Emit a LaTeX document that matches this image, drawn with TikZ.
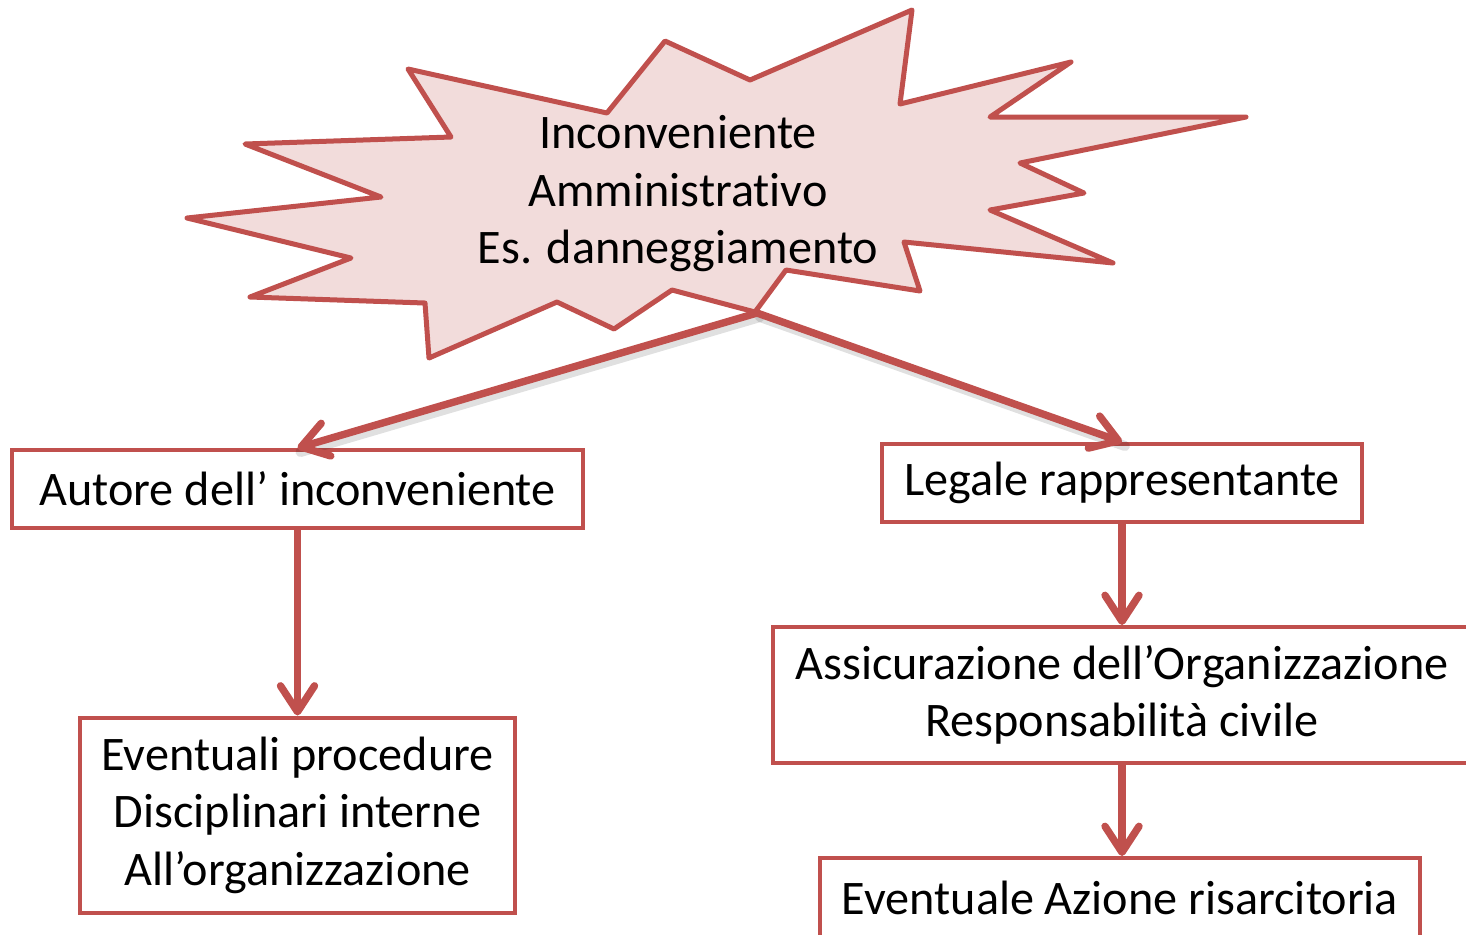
\documentclass[tikz,border=0pt]{standalone}
\usepackage{fontspec}
\setmainfont[Ligatures=NoCommon]{Carlito}
\usetikzlibrary{arrows.meta}
\definecolor{accred}{HTML}{C0504D}
\definecolor{burstfill}{HTML}{F2DCDB}
\begin{document}
\begin{tikzpicture}[x=0.5pt,y=-0.5pt,
  txt/.style={font=\fontsize{24.1}{28.75}\selectfont, align=center, inner sep=0pt},
  box/.style={txt, draw=accred, line width=2pt, fill=white},
  conn/.style={draw=accred, line width=3.7pt, line cap=round,
    -{Straight Barb[length=13pt,width=17pt,line width=3.7pt,round]}},
  shadowline/.style={draw=black, opacity=0.12, line width=5pt, line cap=round},
  burst/.style={draw=accred, fill=burstfill, line width=2.5pt, line join=round}]
\useasboundingbox (0,0) rectangle (1466,934);
% starburst
\draw[burst] (408,69) -- (607,113) -- (665,41) -- (750,80) -- (912,10) -- (900,104)
  -- (1071,62) -- (990,117) -- (1246,117) -- (1020,163) -- (1084,193) -- (990,210)
  -- (1113,263) -- (904,242) -- (920,291) -- (786,270) -- (755,312) -- (672,290)
  -- (614,329) -- (557,302) -- (429,358) -- (425,303) -- (250,297) -- (351,258)
  -- (187,218) -- (381,197) -- (245,144) -- (451,137) -- cycle;
\node[txt] (title) at (678,194) {Inconveniente\\Amministrativo\\Es. danneggiamento};
\coordinate (src) at (757,313);
% boxes
\node[box, minimum width=285.5pt, minimum height=39pt] (autore) at (297.5,489) {Autore dell’ inconveniente};
\node[box, minimum width=240pt, minimum height=39pt] (legale) at (1122,483) {Legale rappresentante};
\node[box, minimum width=349pt, minimum height=68pt] (assic) at (1122,695) {Assicurazione dell’Organizzazione\\Responsabilità civile};
\node[box, minimum width=217.5pt, minimum height=97.5pt] (proc) at (297.5,815) {Eventuali procedure\\Disciplinari interne\\All’organizzazione};
\node[box, minimum width=300pt, minimum height=40pt] (azione) at (1120,898) {Eventuale Azione risarcitoria};
% connector shadows
\begin{scope}[transform canvas={shift={(1.5pt,-2pt)}}]
\draw[shadowline] (src) -- (autore.north);
\draw[shadowline] (src) -- (legale.north);
\end{scope}
% connectors
\draw[conn] (src) -- (autore.north);
\draw[conn] (src) -- (legale.north);
\draw[conn] (autore.south) -- (proc.north);
\draw[conn] (legale.south) -- (assic.north -| legale.south);
\draw[conn] (assic.south -| legale.south) -- (azione.north -| legale.south);
\end{tikzpicture}
\end{document}
